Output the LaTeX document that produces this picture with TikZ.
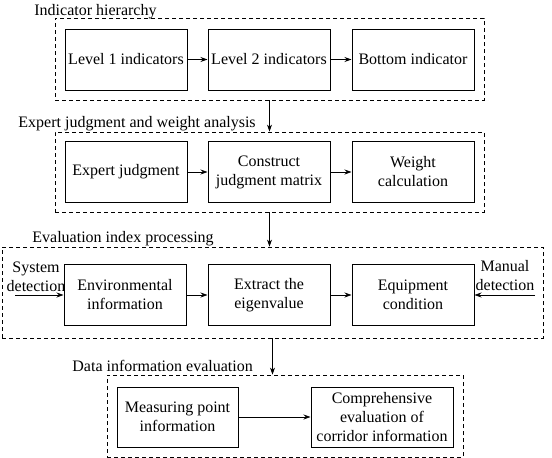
\documentclass[tikz,border=0pt]{standalone}
\usepackage{fontspec}
\setmainfont{LiberationSerif}[Extension=.ttf, UprightFont=*-Regular, BoldFont=*-Bold, ItalicFont=*-Italic, BoldItalicFont=*-BoldItalic]
\usetikzlibrary{arrows.meta}
\tikzset{
	txt/.style={font=\fontsize{16}{19}\selectfont},
	box/.style={txt, draw, line width=1pt, minimum width=122pt, minimum height=61pt, align=center, inner sep=1pt},
	group/.style={draw, dash pattern=on 4pt off 3pt, line width=0.8pt, inner sep=0pt},
	title/.style={txt, anchor=base west, inner sep=0pt},
}
\begin{document}
\begin{tikzpicture}[x=1pt, y=-1pt, >={Stealth[length=7pt,width=5pt]}, line width=0.8pt]
	\useasboundingbox (0,0) rectangle (552,458);
	% dashed groups
	\node [group, minimum width=429pt, minimum height=82pt] (g1) at (269.5,59) {};
	\node [group, minimum width=429pt, minimum height=80pt] (g2) at (269.5,172) {};
	\node [group, minimum width=541pt, minimum height=91pt] (g3) at (272.5,292.5) {};
	\node [group, minimum width=356pt, minimum height=82pt] (g4) at (285,416) {};
	\node [title] (t1) at (34,15) {Indicator hierarchy};
	\node [title] (t2) at (18,127) {Expert judgment and weight analysis};
	\node [title] (t3) at (32,242) {Evaluation index processing};
	\node [title] (t4) at (72,371) {Data information evaluation};
	% row 1
	\node [box] (lv1) at (126,59.5) {Level 1 indicators};
	\node [box] (lv2) at (269,59.5) {Level 2 indicators};
	\node [box] (bot) at (413,59.5) {Bottom indicator};
	% row 2
	\node [box] (exp) at (126,172) {Expert judgment};
	\node [box] (mat) at (269,172) {Construct\\judgment matrix};
	\node [box] (wgt) at (413,172) {Weight\\calculation};
	% row 3
	\node [box] (env) at (125,295) {Environmental\\information};
	\node [box] (eig) at (269,295) {Extract the\\eigenvalue};
	\node [box] (equ) at (413,295) {Equipment\\condition};
	\node [txt, align=center, inner sep=0pt] (sys) at (36,277) {System\\detection};
	\node [txt, align=center, inner sep=0pt] (man) at (505,276) {Manual\\detection};
	\coordinate (sysin) at (15,295);
	\coordinate (manin) at (535,295);
	% row 4
	\node [box, minimum width=121pt, minimum height=60pt] (mea) at (177.5,417) {Measuring point\\information};
	\node [box, minimum width=142pt, minimum height=60pt] (com) at (382,417) {Comprehensive\\evaluation of\\corridor information};
	% arrows
	\draw [->] (lv1) -- (lv2);
	\draw [->] (lv2) -- (bot);
	\draw [->] (exp) -- (mat);
	\draw [->] (mat) -- (wgt);
	\draw [->] (env) -- (eig);
	\draw [->] (eig) -- (equ);
	\draw [->] (sysin) -- (env.west);
	\draw [->] (manin) -- (equ.east);
	\draw [->] (mea) -- (com);
	\draw [->] (g1.south) -- (g2.north);
	\draw [->] (g2.south) -- (g2.south |- g3.north);
	\draw [->] (g3.south) -- (g3.south |- g4.north);
\end{tikzpicture}
\end{document}
